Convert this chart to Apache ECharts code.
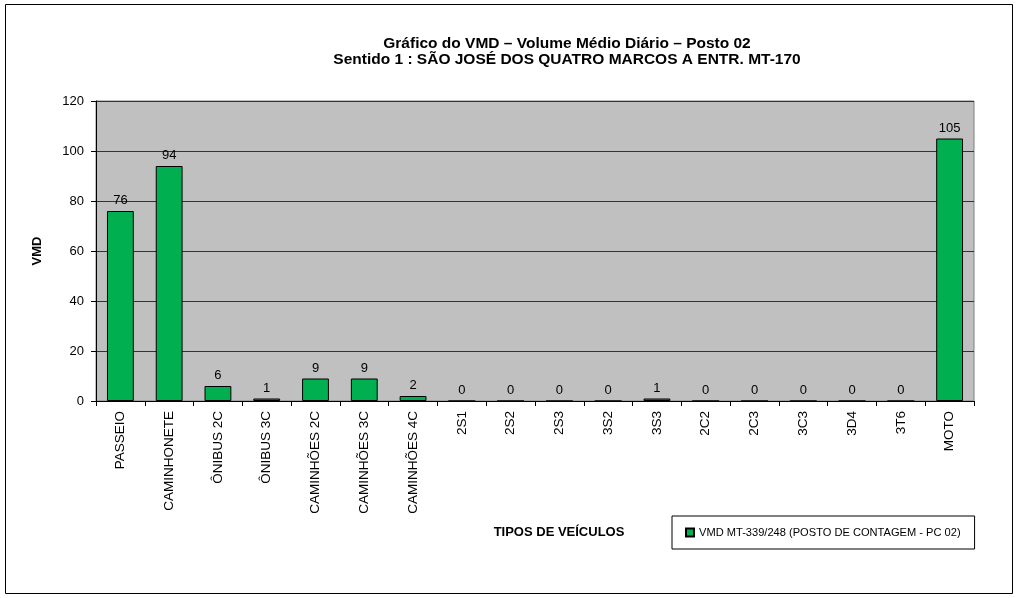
<!DOCTYPE html>
<html><head><meta charset="utf-8">
<script src="https://cdn.jsdelivr.net/npm/echarts@6/dist/echarts.min.js"></script>
<style>html,body{margin:0;padding:0;background:#fff}#c{width:1018px;height:598px}</style>
</head><body><div id="c"></div>
<script>
var categories = ['PASSEIO','CAMINHONETE','ÔNIBUS 2C','ÔNIBUS 3C','CAMINHÕES 2C','CAMINHÕES 3C','CAMINHÕES 4C','2S1','2S2','2S3','3S2','3S3','2C2','2C3','3C3','3D4','3T6','MOTO'];
var values = [76,94,6,1,9,9,2,0,0,0,0,1,0,0,0,0,0,105];
var seriesName = 'VMD MT-339/248 (POSTO DE CONTAGEM - PC 02)';
var titleText = 'Gráfico do VMD – Volume Médio Diário – Posto 02\nSentido 1 : SÃO JOSÉ DOS QUATRO MARCOS A ENTR. MT-170';
var yTicks = {min:0, max:120, interval:20};
var F = 'Liberation Sans, Arial, sans-serif';
var chart = echarts.init(document.getElementById('c'), null, {renderer:'canvas'});
chart.setOption({
  animation:false,
  backgroundColor:'#fff',
  title:{text:titleText, left:562, textAlign:'center', top:31,
    textStyle:{fontFamily:F, fontSize:15.5, fontWeight:'bold', color:'#000', lineHeight:16}},
  grid:{left:96, right:44, top:101, bottom:197, show:true, backgroundColor:'#c0c0c0', borderColor:'#808080', borderWidth:1},
  legend:{left:672, top:516, padding:[11,14,11,13], borderColor:'#000', borderWidth:1,
    itemWidth:8, itemHeight:8, itemGap:4,
    textStyle:{fontFamily:F, fontSize:11.1, color:'#000'},
    data:[{name:seriesName, icon:'rect'}]},
  xAxis:{type:'category', data:categories,
    name:'TIPOS DE VEÍCULOS', nameLocation:'middle', nameGap:125,
    nameTextStyle:{fontFamily:F, fontSize:13, fontWeight:'bold', color:'#000', padding:[0,0,0,48]},
    axisLine:{lineStyle:{color:'#000'}},
    axisTick:{show:true, length:5, alignWithLabel:false, lineStyle:{color:'#000'}},
    axisLabel:{rotate:90, fontFamily:F, fontSize:13.5, color:'#000', margin:10, interval:0},
    splitLine:{show:false}},
  yAxis:{type:'value', min:yTicks.min, max:yTicks.max, interval:yTicks.interval,
    name:'VMD', nameLocation:'middle', nameGap:52, nameRotate:90,
    nameTextStyle:{fontFamily:F, fontSize:13, fontWeight:'bold', color:'#000'},
    axisLine:{show:true, lineStyle:{color:'#000'}},
    axisTick:{show:true, length:5, lineStyle:{color:'#000'}},
    axisLabel:{fontFamily:F, fontSize:13, color:'#000', margin:12},
    splitLine:{show:true, lineStyle:{color:'#333', width:1}}},
  series:[{name:seriesName, type:'bar', data:values, barCategoryGap:'45%',
    itemStyle:{color:'#00b050', borderColor:'#000', borderWidth:1},
    label:{show:true, position:'top', distance:4, fontFamily:F, fontSize:13, color:'#000'}}],
  graphic:[{type:'rect', shape:{x:5.5, y:4.5, width:1007, height:589}, style:{fill:'none', stroke:'#000', lineWidth:1}, silent:true, z:-1}]
});
</script></body></html>
